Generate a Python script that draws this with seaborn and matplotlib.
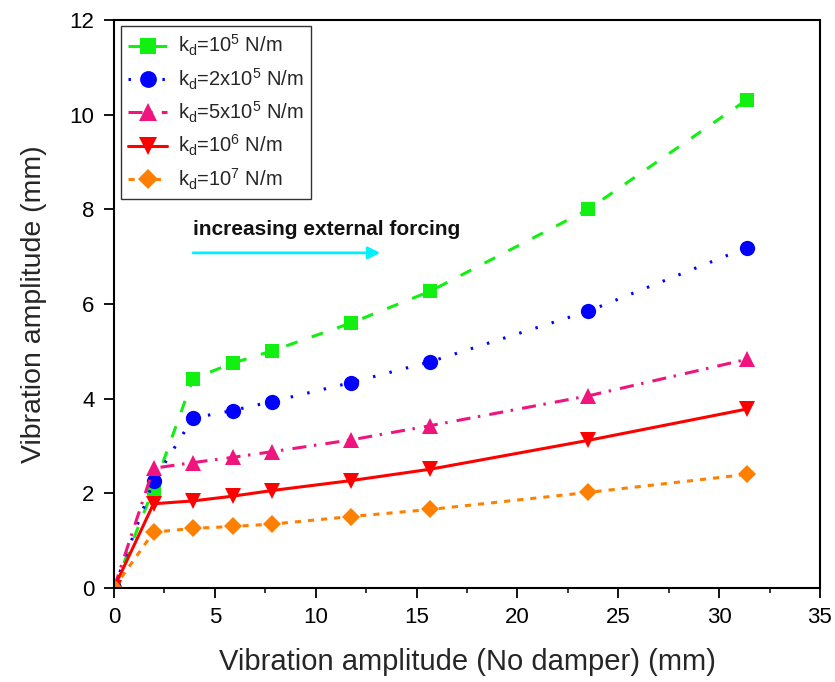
import matplotlib
matplotlib.use("Agg")
import matplotlib.pyplot as plt
import seaborn as sns
import pandas as pd

# Response amplitude with and without the damper, for several damper stiffnesses
x_no_damper = [0.0, 1.96, 3.92, 5.88, 7.84, 11.76, 15.68, 23.52, 31.36]
amp_kd_1e5 = [0.0, 2.10, 4.42, 4.75, 5.01, 5.60, 6.27, 8.00, 10.31]
amp_kd_2e5 = [0.0, 2.26, 3.59, 3.75, 3.94, 4.34, 4.78, 5.85, 7.19]
amp_kd_5e5 = [0.0, 2.53, 2.65, 2.76, 2.88, 3.13, 3.43, 4.06, 4.83]
amp_kd_1e6 = [0.0, 1.78, 1.84, 1.94, 2.06, 2.27, 2.51, 3.12, 3.78]
amp_kd_1e7 = [0.0, 1.18, 1.26, 1.30, 1.35, 1.51, 1.66, 2.02, 2.40]

series_labels = [r"k$_d$=10$^5$ N/m", r"k$_d$=2x10$^5$ N/m", r"k$_d$=5x10$^5$ N/m",
                 r"k$_d$=10$^6$ N/m", r"k$_d$=10$^7$ N/m"]
x_ticks = [0, 5, 10, 15, 20, 25, 30, 35]
y_ticks = [0, 2, 4, 6, 8, 10, 12]

sns.set_theme(style="ticks")
plt.rcParams["font.family"] = ["Liberation Sans", "DejaVu Sans"]
plt.rcParams["mathtext.fontset"] = "custom"
plt.rcParams["mathtext.rm"] = "Liberation Sans"
plt.rcParams["mathtext.it"] = "Liberation Sans"

fig = plt.figure(figsize=(8.35, 6.82), dpi=100)
ax = fig.add_axes([0.1365, 0.1378, 0.8455, 0.8329])

styles = [
    dict(color="#11F011", marker="s", linestyle=(0, (3.9, 4.9)), markersize=10),
    dict(color="#0000FF", marker="o", linestyle=(0, (0.8, 4.75)), markersize=11),
    dict(color="#F0147F", marker="^", linestyle=(0, (4.6, 2.5, 0.8, 3)), markersize=12),
    dict(color="#FF0000", marker="v", linestyle="-", markersize=12),
    dict(color="#FF8000", marker="D", linestyle=(0, (2, 2.3)), markersize=9.5),
]
all_series = [amp_kd_1e5, amp_kd_2e5, amp_kd_5e5, amp_kd_1e6, amp_kd_1e7]

for yvals, lab, st in zip(all_series, series_labels, styles):
    df = pd.DataFrame({"x": x_no_damper, "y": yvals})
    sns.lineplot(data=df, x="x", y="y", ax=ax, label=lab, linewidth=2.2,
                 markeredgewidth=0, sort=False, estimator=None, **st)

ax.set_xlim(0, 35)
ax.set_ylim(0, 12)
ax.set_xticks(x_ticks)
ax.set_yticks(y_ticks)
ax.set_xticks([2.5, 7.5, 12.5, 17.5, 22.5, 27.5, 32.5], minor=True)
ax.tick_params(axis="both", which="major", direction="out", length=7, width=1.3,
               labelsize=16, colors="black", pad=7)
ax.tick_params(axis="x", which="minor", direction="out", length=3.5, width=1.3)
for sp in ax.spines.values():
    sp.set_visible(True)
    sp.set_linewidth(1.5)
    sp.set_color("black")

ax.set_xlabel("Vibration amplitude (No damper) (mm)", fontsize=21, labelpad=14)
ax.set_ylabel("Vibration amplitude (mm)", fontsize=20.5, labelpad=16)

ax.annotate("", xy=(13.2, 7.08), xytext=(3.92, 7.08),
            arrowprops=dict(arrowstyle="-|>", color="#00F0FF", lw=2,
                            mutation_scale=18, shrinkA=0, shrinkB=0))
ax.text(3.92, 7.58, "increasing external forcing", fontsize=15,
        fontweight="bold", va="center", ha="left", color="#111111")

leg = ax.legend(loc="upper left", bbox_to_anchor=(0.01, 0.989), fontsize=14.5,
                frameon=True, fancybox=False, edgecolor="black",
                borderaxespad=0, handlelength=1.95, handletextpad=0.55,
                borderpad=0.35, labelspacing=0.4, markerscale=1.1)
leg.get_frame().set_linewidth(1.0)

fig.savefig("out.png", dpi=100)
